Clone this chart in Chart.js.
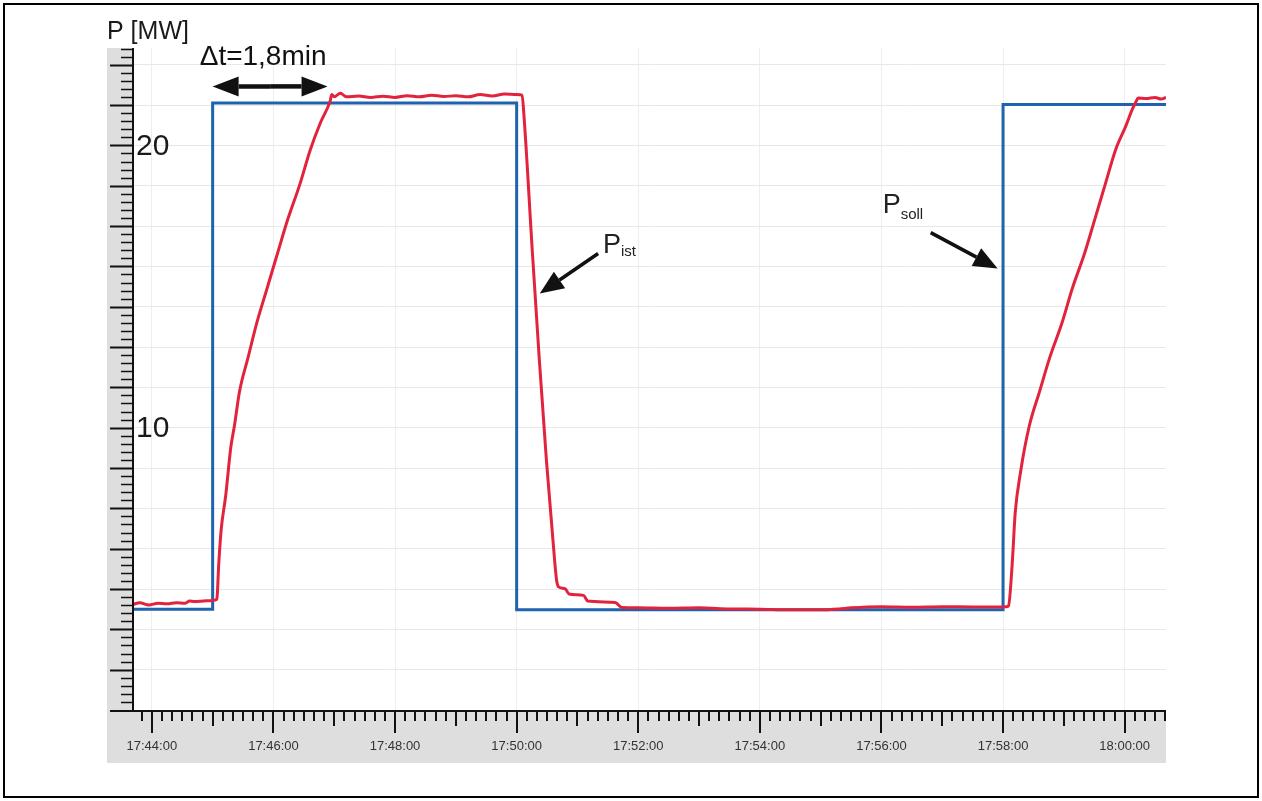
<!DOCTYPE html>
<html>
<head>
<meta charset="utf-8">
<script src="https://cdn.jsdelivr.net/npm/chart.js@4.4.1/dist/chart.umd.min.js"></script>
<style>
    body { margin: 0; background: #fff; }
    canvas { display: block; }
</style>
</head>
<body>
<canvas id="chart" width="1262" height="801"></canvas>
<script>
// time in minutes after 17:44:00, power in MW
const sollTime  = [-0.31, 1.0, 1.0, 6.0, 6.0, 14.0, 14.0, 16.68];
const sollPower = [3.57, 3.57, 21.5, 21.5, 3.55, 3.55, 21.45, 21.45];

const istTime = [
    -0.31, -0.2, -0.05, 0.1, 0.25, 0.4, 0.55, 0.62, 0.7, 0.85, 1.0, 1.05,
    1.07, 1.10, 1.14, 1.215, 1.30, 1.357, 1.442, 1.584, 1.727, 1.896, 2.066, 2.237, 2.434, 2.605, 2.776, 2.93, 2.96,
    3.0, 3.1, 3.2, 3.4, 3.6, 3.8, 4.0, 4.2, 4.4, 4.6, 4.8, 5.0, 5.2, 5.4, 5.6, 5.8, 6.0, 6.09,
    6.12, 6.26, 6.37, 6.49, 6.63, 6.66, 6.69, 6.80, 6.86, 7.10, 7.17, 7.62, 7.73,
    8.0, 8.5, 9.0, 9.5, 10.0, 10.5, 11.0, 11.3, 11.5, 12.0, 12.5, 13.0, 13.5, 14.0, 14.06,
    14.09, 14.15, 14.2, 14.29, 14.43, 14.6, 14.77, 14.97, 15.14, 15.34, 15.51, 15.68, 15.85, 16.02, 16.13, 16.19, 16.22,
    16.35, 16.5, 16.6, 16.68
];
const istPower = [
    3.74, 3.8, 3.72, 3.78, 3.76, 3.8, 3.78, 3.86, 3.84, 3.86, 3.88, 3.9,
    3.95, 5.16, 6.38, 7.6, 9.33, 10.05, 11.28, 12.5, 13.72, 14.94, 16.17, 17.39, 18.62, 19.84, 20.82, 21.55, 21.8,
    21.72, 21.85, 21.72, 21.75, 21.7, 21.74, 21.7, 21.76, 21.72, 21.78, 21.73, 21.76, 21.72, 21.8, 21.75, 21.82, 21.8, 21.78,
    21.06, 16.17, 12.5, 8.83, 5.16, 4.55, 4.36, 4.29, 4.11, 4.06, 3.86, 3.81, 3.63,
    3.62, 3.6, 3.62, 3.58, 3.57, 3.55, 3.55, 3.58, 3.62, 3.66, 3.64, 3.66, 3.65, 3.65, 3.66,
    3.69, 5.16, 6.99, 8.46, 10.05, 11.28, 12.5, 13.72, 14.94, 16.17, 17.39, 18.62, 19.84, 20.69, 21.3, 21.56, 21.68,
    21.66, 21.7, 21.64, 21.7
];

const xLabelMinutes = [0, 2, 4, 6, 8, 10, 12, 14, 16];
const xLabels = ['17:44:00', '17:46:00', '17:48:00', '17:50:00', '17:52:00', '17:54:00', '17:56:00', '17:58:00', '18:00:00'];
const yLabelValues = [10, 20];
const yLabels = ['10', '20'];

const X_MIN = -0.31, X_MAX = 16.68;
const Y_MIN = 0, Y_MAX = 23.45;
const Y_STEP = 10 / 7;

const FONT = '"Liberation Sans", Arial, sans-serif';

function drawArrow(ctx, x1, y1, x2, y2, width, headLen, headHalf) {
    const ang = Math.atan2(y2 - y1, x2 - x1);
    const bx = x2 - headLen * Math.cos(ang);
    const by = y2 - headLen * Math.sin(ang);
    ctx.lineWidth = width;
    ctx.beginPath();
    ctx.moveTo(x1, y1);
    ctx.lineTo(bx, by);
    ctx.stroke();
    ctx.beginPath();
    ctx.moveTo(x2, y2);
    ctx.lineTo(bx + headHalf * Math.sin(ang), by - headHalf * Math.cos(ang));
    ctx.lineTo(bx - headHalf * Math.sin(ang), by + headHalf * Math.cos(ang));
    ctx.closePath();
    ctx.fill();
}

const rulerPlugin = {
    id: 'ruler',
    beforeDraw(chart) {
        const { ctx, chartArea: a } = chart;
        ctx.save();
        ctx.fillStyle = '#fff';
        ctx.fillRect(0, 0, chart.width, chart.height);
        ctx.fillStyle = '#dedede';
        ctx.fillRect(a.left - 26, a.top, 26, a.bottom - a.top);
        ctx.fillRect(a.left - 26, a.bottom, a.right - a.left + 26, 53);
        ctx.restore();
    },
    afterDraw(chart) {
        const { ctx, chartArea: a } = chart;
        const xs = chart.scales.x, ys = chart.scales.y;
        ctx.save();
        ctx.strokeStyle = '#111';
        ctx.fillStyle = '#111';

        // axis lines
        ctx.lineWidth = 2;
        ctx.beginPath();
        ctx.moveTo(a.left, a.top);
        ctx.lineTo(a.left, a.bottom + 1);
        ctx.moveTo(a.left - 23, a.bottom + 1);
        ctx.lineTo(a.right, a.bottom + 1);
        ctx.stroke();

        // left ruler ticks
        for (let k = 1; k * Y_STEP / 5 <= Y_MAX; k++) {
            const py = Math.round(ys.getPixelForValue(k * Y_STEP / 5)) + 0.5;
            const len = k % 5 === 0 ? 23 : 12;
            ctx.lineWidth = k % 5 === 0 ? 2 : 1.5;
            ctx.beginPath();
            ctx.moveTo(a.left, py);
            ctx.lineTo(a.left - len, py);
            ctx.stroke();
        }

        // bottom ruler ticks, every 10 s
        ctx.lineWidth = 2;
        for (let s = Math.ceil(X_MIN * 6); s <= X_MAX * 6; s++) {
            const px = Math.round(xs.getPixelForValue(s / 6));
            let len = 10;
            if (s % 12 === 0) len = 22;
            else if (s % 6 === 0) len = 15;
            ctx.beginPath();
            ctx.moveTo(px, a.bottom + 1);
            ctx.lineTo(px, a.bottom + 1 + len);
            ctx.stroke();
        }

        // time labels
        ctx.fillStyle = '#333';
        ctx.font = '13px ' + FONT;
        ctx.textAlign = 'center';
        ctx.textBaseline = 'middle';
        xLabelMinutes.forEach((m, i) => {
            ctx.fillText(xLabels[i], xs.getPixelForValue(m), a.bottom + 36);
        });

        // power labels
        ctx.fillStyle = '#1a1a1a';
        ctx.font = '30px ' + FONT;
        ctx.textAlign = 'left';
        yLabelValues.forEach((v, i) => {
            ctx.fillText(yLabels[i], a.left + 3, ys.getPixelForValue(v) + 1);
        });

        // axis title
        ctx.font = '25px ' + FONT;
        ctx.textBaseline = 'alphabetic';
        ctx.fillText('P [MW]', a.left - 26, a.top - 9);

        // delta t annotation
        ctx.fillStyle = '#111';
        ctx.font = '28px ' + FONT;
        ctx.textAlign = 'center';
        ctx.fillText('\u0394t=1,8min', xs.getPixelForValue(1.83), ys.getPixelForValue(22.84));
        const ay = ys.getPixelForValue(22.09);
        const ax1 = xs.getPixelForValue(1.0), ax2 = xs.getPixelForValue(2.89);
        const mid = (ax1 + ax2) / 2;
        drawArrow(ctx, mid, ay, ax1, ay, 4.5, 26, 10);
        drawArrow(ctx, mid, ay, ax2, ay, 4.5, 26, 10);

        // P_ist
        ctx.textAlign = 'left';
        ctx.fillStyle = '#222';
        let px = xs.getPixelForValue(7.42), py = ys.getPixelForValue(16.2);
        ctx.font = '27px ' + FONT;
        ctx.fillText('P', px, py);
        ctx.font = '15px ' + FONT;
        ctx.fillText('ist', px + 18, py + 3);
        ctx.fillStyle = '#111';
        drawArrow(ctx, xs.getPixelForValue(7.34), ys.getPixelForValue(16.17),
            xs.getPixelForValue(6.38), ys.getPixelForValue(14.75), 3.5, 24, 10);

        // P_soll
        ctx.fillStyle = '#222';
        px = xs.getPixelForValue(12.02); py = ys.getPixelForValue(17.62);
        ctx.font = '27px ' + FONT;
        ctx.fillText('P', px, py);
        ctx.font = '15px ' + FONT;
        ctx.fillText('soll', px + 18, py + 6);
        ctx.fillStyle = '#111';
        drawArrow(ctx, xs.getPixelForValue(12.81), ys.getPixelForValue(16.91),
            xs.getPixelForValue(13.91), ys.getPixelForValue(15.64), 3.5, 24, 10);

        // frame
        ctx.strokeStyle = '#000';
        ctx.lineWidth = 2;
        ctx.strokeRect(4, 4, chart.width - 8, chart.height - 8);
        ctx.restore();
    }
};

const ctx = document.getElementById('chart').getContext('2d');
new Chart(ctx, {
    type: 'line',
    data: {
        datasets: [
            {
                label: 'Pist',
                data: istTime.map((t, i) => ({ x: t, y: istPower[i] })),
                borderColor: '#e2233d',
                borderWidth: 3,
                pointRadius: 0,
                cubicInterpolationMode: 'monotone',
                fill: false
            },
            {
                label: 'Psoll',
                data: sollTime.map((t, i) => ({ x: t, y: sollPower[i] })),
                borderColor: '#1f62ad',
                borderWidth: 3,
                pointRadius: 0,
                tension: 0,
                fill: false
            }
        ]
    },
    options: {
        responsive: false,
        animation: false,
        layout: { padding: { left: 133, right: 96, top: 48, bottom: 91 } },
        plugins: {
            legend: { display: false },
            tooltip: { enabled: false }
        },
        scales: {
            x: {
                type: 'linear',
                min: X_MIN,
                max: X_MAX,
                afterBuildTicks: scale => {
                    scale.ticks = xLabelMinutes.map(v => ({ value: v }));
                },
                ticks: { display: false },
                grid: { color: '#eeeeee', lineWidth: 1, drawTicks: false },
                border: { display: false }
            },
            y: {
                type: 'linear',
                min: Y_MIN,
                max: Y_MAX,
                afterBuildTicks: scale => {
                    const t = [];
                    for (let k = 1; k * Y_STEP <= Y_MAX; k++) t.push({ value: k * Y_STEP });
                    scale.ticks = t;
                },
                ticks: { display: false },
                grid: { color: '#e8e8e8', lineWidth: 1, drawTicks: false },
                border: { display: false }
            }
        }
    },
    plugins: [rulerPlugin]
});
</script>
</body>
</html>
